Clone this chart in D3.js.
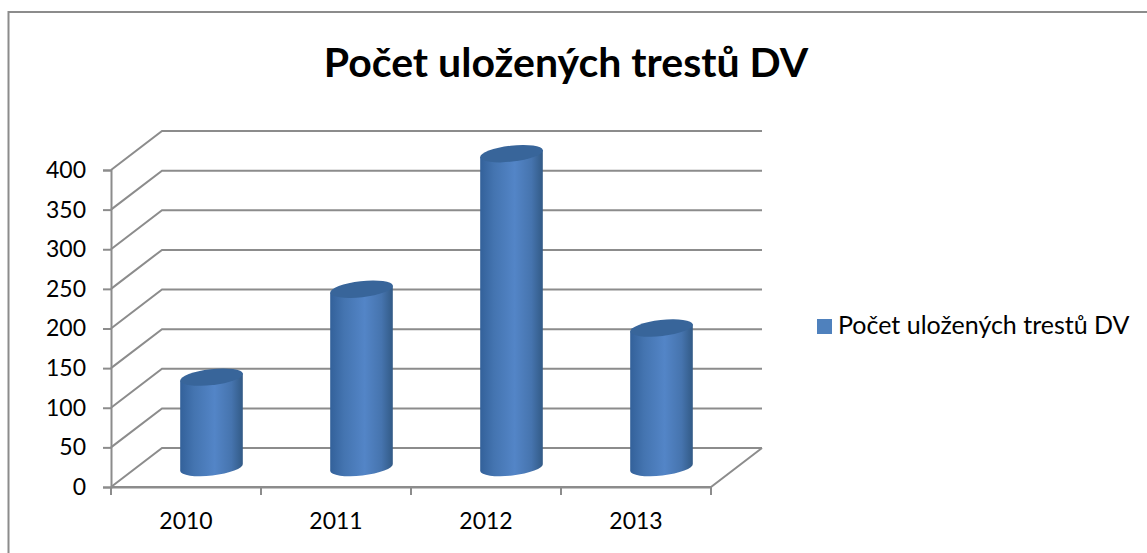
<!DOCTYPE html>
<html lang="en">
  <head>
    <meta charset="UTF-8" />
    <title>Počet uložených trestů DV</title>
    <script src="https://d3js.org/d3.v7.min.js"></script>
    <style>
      html, body { margin: 0; padding: 0; background: #fff; }
      svg { display: block; font-family: Lato, sans-serif; }
    </style>
  </head>
  <body>
    <div id="chart"></div>
    <script>
      var titleText = "Počet uložených trestů DV";
      var seriesName = "Počet uložených trestů DV";
      var years = ["2010", "2011", "2012", "2013"];
      var counts = [114, 225, 396, 176];
      var yTicks = [0, 50, 100, 150, 200, 250, 300, 350, 400];

      var width = 1147;
      var height = 553;
      var gray = "#8c8c8c";

      // 3d depth of the plot box
      var depthX = 51;
      var depthY = 39;
      var rx = 31.5;
      var ry = 8;
      var tilt = -6.5;

      var svg = d3
        .select("#chart")
        .append("svg")
        .attr("width", width)
        .attr("height", height);

      var x = d3.scaleBand().domain(years).range([111, 711]);
      var y = d3.scaleLinear().domain([0, 400]).range([487, 170]);

      var defs = svg.append("defs");
      var grad = defs
        .append("linearGradient")
        .attr("id", "cyl")
        .attr("x1", "0%")
        .attr("x2", "100%")
        .attr("y1", "0%")
        .attr("y2", "0%");
      grad.append("stop").attr("offset", "0%").attr("stop-color", "#33619a");
      grad.append("stop").attr("offset", "22%").attr("stop-color", "#4474b0");
      grad.append("stop").attr("offset", "55%").attr("stop-color", "#5385c7");
      grad.append("stop").attr("offset", "82%").attr("stop-color", "#4674ae");
      grad.append("stop").attr("offset", "100%").attr("stop-color", "#325a86");

      // frame, open at the bottom and right like the source image
      svg
        .append("path")
        .attr("d", "M8.5," + height + "V12H" + width)
        .attr("fill", "none")
        .attr("stroke", gray)
        .attr("stroke-width", 2);

      svg
        .append("text")
        .attr("x", 566)
        .attr("y", 77)
        .attr("text-anchor", "middle")
        .style("font-size", "41px")
        .style("font-weight", "bold")
        .attr("fill", "#000")
        .text(titleText);

      // walls
      svg
        .append("g")
        .selectAll("path")
        .data(yTicks)
        .join("path")
        .attr("d", function (d) {
          return (
            "M111," + y(d) +
            "L" + (111 + depthX) + "," + (y(d) - depthY) +
            "H" + (711 + depthX)
          );
        })
        .attr("fill", "none")
        .attr("stroke", gray)
        .attr("stroke-width", 2);

      // floor front edge and right side
      svg
        .append("path")
        .attr(
          "d",
          "M111," + y(0) + "H711L" + (711 + depthX) + "," + (y(0) - depthY)
        )
        .attr("fill", "none")
        .attr("stroke", gray)
        .attr("stroke-width", 2);

      var yAxis = svg
        .append("g")
        .attr("transform", "translate(111,0)")
        .call(d3.axisLeft(y).tickValues(yTicks).tickSize(8).tickPadding(17));
      var xAxis = svg
        .append("g")
        .attr("transform", "translate(0," + y(0) + ")")
        .call(d3.axisBottom(x).tickSize(0).tickPadding(26));

      // band edges get the ticks here, not band centres
      svg
        .append("g")
        .selectAll("line")
        .data(years.concat(["end"]))
        .join("line")
        .attr("x1", function (d, i) {
          return 111 + i * x.bandwidth();
        })
        .attr("x2", function (d, i) {
          return 111 + i * x.bandwidth();
        })
        .attr("y1", y(0))
        .attr("y2", y(0) + 8)
        .attr("stroke", gray)
        .attr("stroke-width", 2);

      [yAxis, xAxis].forEach(function (a) {
        a.select(".domain").attr("stroke", gray).attr("stroke-width", 2);
        a.selectAll(".tick line").attr("stroke", gray).attr("stroke-width", 2);
        a.selectAll("text")
          .style("font-size", "23px")
          .style("font-family", "Lato, sans-serif")
          .attr("fill", "#000");
      });

      // cylinders
      var dx = rx * Math.cos((tilt * Math.PI) / 180);
      var dy = rx * Math.sin((tilt * Math.PI) / 180);
      var bars = svg
        .append("g")
        .selectAll("g")
        .data(years)
        .join("g")
        .attr("transform", function (d) {
          return (
            "translate(" + (x(d) + x.bandwidth() / 2 + depthX / 2) + "," + -depthY / 2 + ")"
          );
        });

      bars
        .append("path")
        .attr("d", function (d, i) {
          var top = y(counts[i]);
          var bot = y(0);
          return (
            "M" + -dx + "," + (top - dy) +
            "L" + -dx + "," + (bot - dy) +
            "A" + rx + "," + ry + " " + tilt + " 0 0 " + dx + "," + (bot + dy) +
            "L" + dx + "," + (top + dy) + "Z"
          );
        })
        .attr("fill", "url(#cyl)");

      bars
        .append("ellipse")
        .attr("rx", rx)
        .attr("ry", ry)
        .attr("transform", function (d, i) {
          return "translate(0," + y(counts[i]) + ") rotate(" + tilt + ")";
        })
        .attr("fill", "#38659a");

      // legend
      svg
        .append("rect")
        .attr("x", 817)
        .attr("y", 319)
        .attr("width", 15)
        .attr("height", 15)
        .attr("fill", "#4f81bd");
      svg
        .append("text")
        .attr("x", 838)
        .attr("y", 334)
        .style("font-size", "25px")
        .attr("fill", "#000")
        .text(seriesName);
    </script>
  </body>
</html>
